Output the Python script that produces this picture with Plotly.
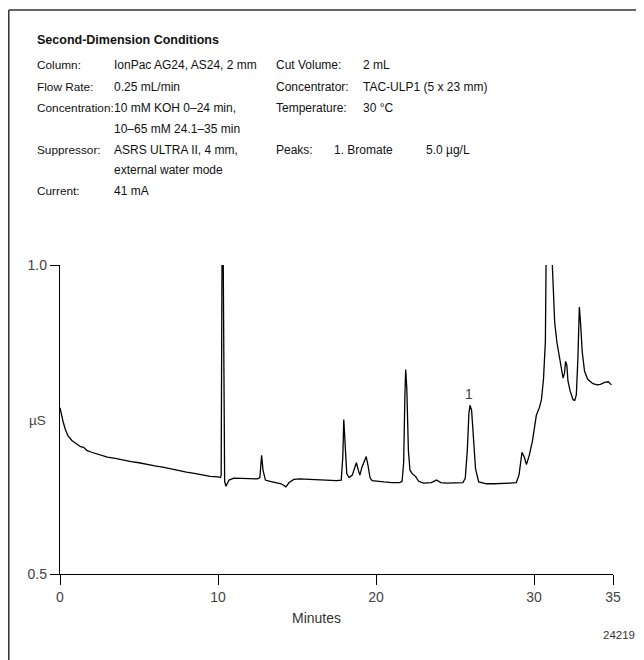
import plotly.graph_objects as go

# Chromatogram trace (time in minutes, conductivity in µS)
time_min = [0.0, 0.1, 0.2, 0.35, 0.5, 0.75, 1.0, 1.3, 1.5, 1.7, 2.0, 2.5, 3.0, 3.5, 4.0, 4.5, 5.0, 5.5, 6.0,
            6.5, 7.0, 7.5, 8.0, 8.5, 9.0, 9.5, 10.0, 10.15, 10.2, 10.26, 10.32, 10.42, 10.5, 10.7, 11.0,
            11.5, 12.0, 12.5, 12.65, 12.76, 12.85, 13.0, 13.3, 13.7, 14.0, 14.3, 14.5, 14.8, 15.2, 15.8,
            16.5, 17.0, 17.5, 17.8, 17.9, 17.96, 18.05, 18.15, 18.3, 18.5, 18.65, 18.76, 18.88, 18.98,
            19.1, 19.25, 19.38, 19.5, 19.62, 19.75, 20.0, 20.5, 21.0, 21.5, 21.65, 21.75, 21.83, 21.88,
            21.95, 22.05, 22.15, 22.3, 22.5, 22.7, 23.0, 23.5, 23.83, 24.1, 24.5, 25.0, 25.5, 25.65,
            25.78, 25.88, 25.95, 26.05, 26.18, 26.3, 26.5, 27.0, 27.5, 28.0, 28.5, 28.88, 29.05, 29.24,
            29.4, 29.52, 29.7, 29.9, 30.15, 30.35, 30.47, 30.6, 30.68, 30.72, 30.78, 30.9, 31.05, 31.16,
            31.31, 31.45, 31.62, 31.84, 31.93, 32.0, 32.08, 32.15, 32.3, 32.47, 32.58, 32.68, 32.78,
            32.87, 32.95, 33.05, 33.2, 33.4, 33.73, 34.0, 34.2, 34.47, 34.7, 34.9]
conductivity_us = [0.769, 0.757, 0.746, 0.733, 0.724, 0.716, 0.711, 0.706, 0.705, 0.700, 0.697, 0.693, 0.689,
                   0.687, 0.684, 0.682, 0.680, 0.677, 0.675, 0.673, 0.670, 0.668, 0.665, 0.663, 0.660,
                   0.658, 0.657, 0.656, 0.66, 1.05, 1.05, 0.650, 0.642, 0.652, 0.655, 0.655, 0.655, 0.654,
                   0.656, 0.692, 0.668, 0.652, 0.650, 0.648, 0.646, 0.641, 0.648, 0.653, 0.654, 0.653,
                   0.652, 0.651, 0.651, 0.652, 0.690, 0.750, 0.700, 0.662, 0.656, 0.660, 0.672, 0.680,
                   0.668, 0.660, 0.672, 0.682, 0.690, 0.675, 0.656, 0.651, 0.650, 0.649, 0.648, 0.648,
                   0.650, 0.680, 0.790, 0.831, 0.800, 0.700, 0.668, 0.662, 0.658, 0.650, 0.647, 0.648,
                   0.652, 0.648, 0.647, 0.647, 0.648, 0.655, 0.700, 0.760, 0.773, 0.765, 0.720, 0.670,
                   0.649, 0.646, 0.646, 0.646, 0.647, 0.648, 0.660, 0.697, 0.688, 0.677, 0.692, 0.715,
                   0.757, 0.770, 0.782, 0.815, 0.874, 0.876, 1.05, 1.05, 1.05, 1.0, 0.907, 0.875, 0.847,
                   0.817, 0.825, 0.844, 0.838, 0.812, 0.795, 0.782, 0.781, 0.790, 0.850, 0.932, 0.905,
                   0.860, 0.828, 0.815, 0.808, 0.806, 0.807, 0.810, 0.811, 0.806]

x_tick_vals = [0, 10, 20, 30, 35]
x_tick_text = ["0", "10", "20", "30", "35"]
y_tick_vals = [0.5, 1.0]
y_tick_text = ["0.5", "1.0"]

peak_labels = ["1"]
peak_times = [25.91]
peak_heights = [0.791]

FONT = "Liberation Sans, Arial, Helvetica, sans-serif"
OFF = 8  # the page body offsets the figure by 8 px
W, H = 644 - OFF, 660 - OFF
# plot area in reference pixel coords: x 60..613.3, y 265..574
L, R, T, B = 60 - OFF, 644 - 613.3, 265 - OFF, 660 - 574
PW, PH = W - L - R, H - T - B


def px(x):
    return (x - OFF - L) / PW


def py(y):
    return (H - B - (y - OFF)) / PH


fig = go.Figure()
fig.add_trace(go.Scatter(x=time_min, y=conductivity_us, mode="lines",
                         line=dict(color="black", width=1.3), hoverinfo="skip"))

for lab, t, h in zip(peak_labels, peak_times, peak_heights):
    fig.add_annotation(x=t, y=h, text=lab, showarrow=False, xanchor="center", yanchor="middle",
                       font=dict(family=FONT, size=14, color="#444444"))

# header text
left_rows = [
    ("Column:", "IonPac AG24, AS24, 2 mm", 65),
    ("Flow Rate:", "0.25 mL/min", 86.5),
    ("Concentration:", "10 mM KOH 0–24 min,", 107.5),
    ("", "10–65 mM 24.1–35 min", 128.5),
    ("Suppressor:", "ASRS ULTRA II, 4 mm,", 149.5),
    ("", "external water mode", 170),
    ("Current:", "41 mA", 190.5),
]
right_rows = [
    ("Cut Volume:", "2 mL", 65),
    ("Concentrator:", "TAC-ULP1 (5 x 23 mm)", 86.5),
    ("Temperature:", "30 °C", 107.5),
]


def txt(x, y, s, size=12, bold=False, color="#111111", anchor="left"):
    fig.add_annotation(xref="paper", yref="paper", x=px(x), y=py(y), text=("<b>%s</b>" % s) if bold else s,
                       showarrow=False, xanchor=anchor, yanchor="middle",
                       font=dict(family=FONT, size=size, color=color))


txt(35, 40, "Second-Dimension Conditions", size=12.5, bold=True)
for a, b, y in left_rows:
    if a:
        txt(35, y, a, size=11.8)
    txt(112, y, b)
for a, b, y in right_rows:
    txt(274, y, a)
    txt(361, y, b)
txt(274, 149.5, "Peaks:")
txt(332, 149.5, "1. Bromate")
txt(424, 149.5, "5.0 µg/L")

txt(317, 618, "Minutes", size=14, color="#333333", anchor="center")
txt(637.5, 635, "24219", size=11.5, color="#333333", anchor="right")
txt(37, 420, "µS", size=13.5, color="#444444", anchor="center")

# frame around the figure (top and left edges visible)
fig.add_shape(type="line", xref="paper", yref="paper", x0=px(8.75), x1=px(660), y0=py(10), y1=py(10),
              line=dict(color="#333333", width=1.5))
fig.add_shape(type="line", xref="paper", yref="paper", x0=px(8.75), x1=px(8.75), y0=py(10), y1=py(680),
              line=dict(color="#333333", width=1.5))

fig.update_layout(
    width=W, height=H, margin=dict(l=L, r=R, t=T, b=B, autoexpand=False),
    paper_bgcolor="white", plot_bgcolor="white", showlegend=False,
    font=dict(family=FONT, color="#444444"),
    xaxis=dict(range=[0, 35], tickvals=x_tick_vals, ticktext=x_tick_text, showgrid=False, zeroline=False,
               showline=True, linecolor="black", linewidth=1.3, ticks="outside", ticklen=10, tickwidth=1.3,
               tickcolor="black", tickfont=dict(family=FONT, size=14, color="#444444")),
    yaxis=dict(range=[0.5, 1.0], tickvals=y_tick_vals, ticktext=y_tick_text, showgrid=False, zeroline=False,
               showline=True, linecolor="black", linewidth=1.3, ticks="outside", ticklen=9, tickwidth=1.3,
               tickcolor="black", tickfont=dict(family=FONT, size=14, color="#444444")),
)

fig.write_html("out.html")
